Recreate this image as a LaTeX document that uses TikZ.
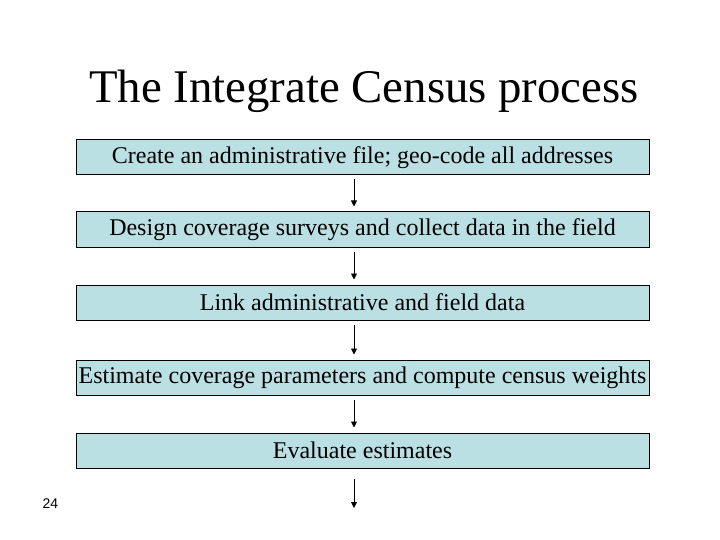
\documentclass[tikz,border=0pt]{standalone}
\usepackage{fontspec}
\setmainfont{Liberation Serif}
\newfontfamily\arialfont{Liberation Sans}
\usetikzlibrary{arrows.meta}
\definecolor{boxfill}{RGB}{187,224,228}
\tikzset{
  stepbox/.style={draw=black, line width=1pt, fill=boxfill, minimum width=573pt, minimum height=35pt, inner sep=0pt, font=\fontsize{24}{28}\selectfont},
  arr/.style={line width=0.9pt, -{Triangle[width=6pt,length=6pt]}, shorten <=4pt, shorten >=5pt}
}
\begin{document}
\begin{tikzpicture}[x=1pt,y=-1pt]
\useasboundingbox (0,0) rectangle (720,540);
\node[font=\fontsize{46.8}{52}\selectfont, anchor=base] (title) at (364,103) {The Integrate Census process};
\node[stepbox] (b1) at (362.5,157.5) {Create an administrative file; geo-code all addresses};
\node[stepbox] (b2) at (362.5,229.5) {Design coverage surveys and collect data in the field};
\node[stepbox] (b3) at (362.5,302.5) {Link administrative and field data};
\node[stepbox] (b4) at (362.5,377.5) {Estimate coverage parameters and compute census weights};
\node[stepbox] (b5) at (362.5,450.5) {Evaluate estimates};
\coordinate (ax) at (354,0);
\coordinate (s5) at (354,475);
\coordinate (e5) at (354,513);
\draw[arr] (b1.south -| ax) -- (b2.north -| ax);
\draw[arr] (b2.south -| ax) -- (b3.north -| ax);
\draw[arr] (b3.south -| ax) -- (b4.north -| ax);
\draw[arr] (b4.south -| ax) -- (b5.north -| ax);
\draw[arr] (s5) -- (e5);
\node[font=\arialfont\fontsize{14}{16}\selectfont] (num) at (50.5,503.5) {24};
\end{tikzpicture}
\end{document}
